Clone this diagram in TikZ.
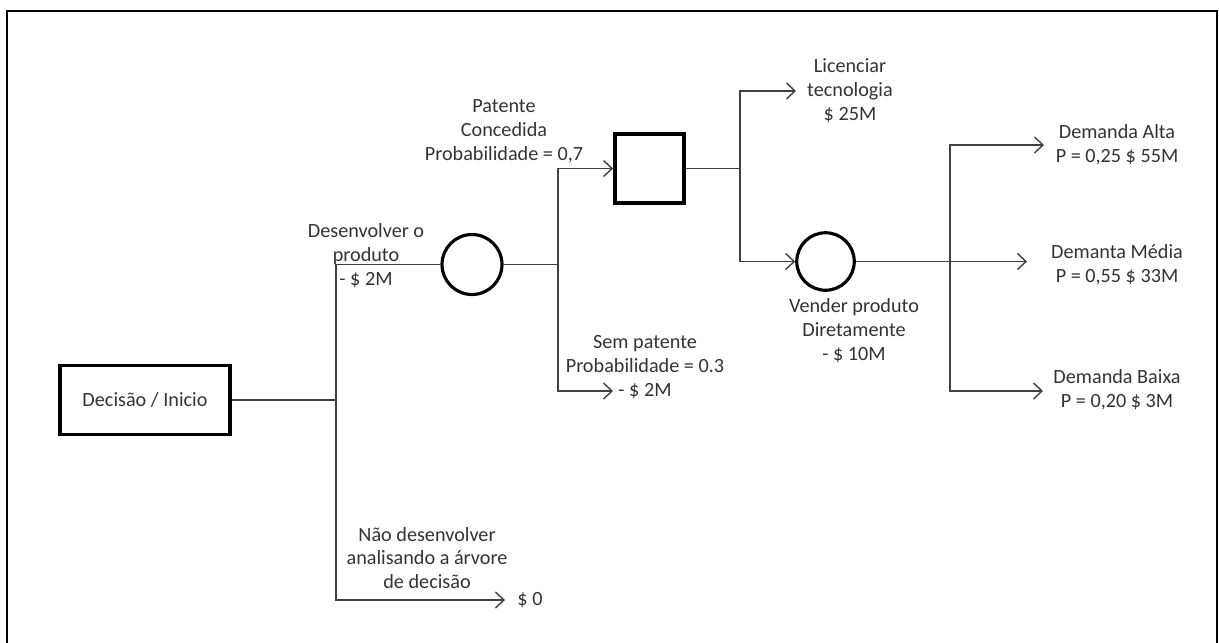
\documentclass[tikz,border=0pt]{standalone}
\usepackage{fontspec}
\setmainfont{Carlito}
\usetikzlibrary{arrows.meta, positioning}
\definecolor{arvoreline}{HTML}{404040}
\definecolor{arvoretext}{HTML}{333333}
\newcommand{\arvorefont}{\fontsize{11.5}{13.6}\selectfont}
\tikzset{
  >={Straight Barb[length=1.7mm, width=3.2mm]},
  decisao/.style={rectangle, draw=black, line width=2.2pt, minimum width=3.4cm,
                  minimum height=1.38cm, font=\arvorefont, text=arvoretext},
  acaso/.style={circle, draw=black, line width=1.8pt, minimum size=1.2cm, inner sep=0pt},
  ramo/.style={draw=arvoreline, line width=0.8pt},
  seta/.style={ramo, ->},
  lbl/.style={align=center, font=\arvorefont, text=arvoretext, inner sep=0pt},
  moldura/.style={draw=black, line width=1.2pt},
}

\begin{document}
\begin{tikzpicture}[x={(0.02cm,0)}, y={(0,-0.02cm)}]
  \useasboundingbox (0,0) rectangle (1219,642);
  \draw[moldura] (7,11) rectangle (1217,680);

  \node[decisao] (inicio) at (145,400) {Decisão / Inicio};
  \node[acaso] (acaso1) at (472,264.5) {};
  \node[decisao, minimum width=1.38cm] (patente) at (649.5,168.5) {};
  \node[acaso, minimum size=1.15cm] (acaso2) at (825.5,261.5) {};

  \coordinate (j1) at (336,400);
  \coordinate (j2) at (558,264.5);
  \coordinate (j3) at (740,168.5);
  \coordinate (j4) at (950,261.5);
  \coordinate (f0) at (505,600);
  \coordinate (f1) at (613,391);
  \coordinate (f2) at (796,91);
  \coordinate (f3) at (1027,261.5);
  \coordinate (f4) at (1044,145);
  \coordinate (f5) at (1043,391);

  \draw[ramo] (inicio) -- (j1);
  \draw[ramo] (acaso1.west) -| (j1);
  \draw[seta] (j1) |- (f0);
  \draw[ramo] (acaso1) -- (j2);
  \draw[seta] (j2) |- (patente.west);
  \draw[seta] (j2) |- (f1);
  \draw[ramo] (patente) -- (j3);
  \draw[seta] (j3) |- (f2);
  \draw[seta] (j3) |- (acaso2.west);
  \draw[seta] (acaso2) -- (f3);
  \draw[seta] (j4) |- (f4);
  \draw[seta] (j4) |- (f5);

  \node[lbl] (desenv) at (366,256) {Desenvolver o\\produto\\- \$ 2M};
  \node[lbl] (naodesenv) at (427,558) {Não desenvolver\\analisando a árvore\\de decisão};
  \node[lbl] (zero) at (530,600) {\$ 0};
  \node[lbl] (concedida) at (504,131) {Patente\\Concedida\\Probabilidade = 0,7};
  \node[lbl] (sempatente) at (645,367) {Sem patente\\Probabilidade = 0.3\\- \$ 2M};
  \node[lbl] (licenciar) at (850,91) {Licenciar\\tecnologia\\\$ 25M};
  \node[lbl] (vender) at (854,331) {Vender produto\\Diretamente\\- \$ 10M};
  \node[lbl] (alta) at (1117,145) {Demanda Alta\\P = 0,25 \$ 55M};
  \node[lbl] (media) at (1117,265) {Demanta Média\\P = 0,55 \$ 33M};
  \node[lbl] (baixa) at (1117,390) {Demanda Baixa\\P = 0,20 \$ 3M};
\end{tikzpicture}
\end{document}
